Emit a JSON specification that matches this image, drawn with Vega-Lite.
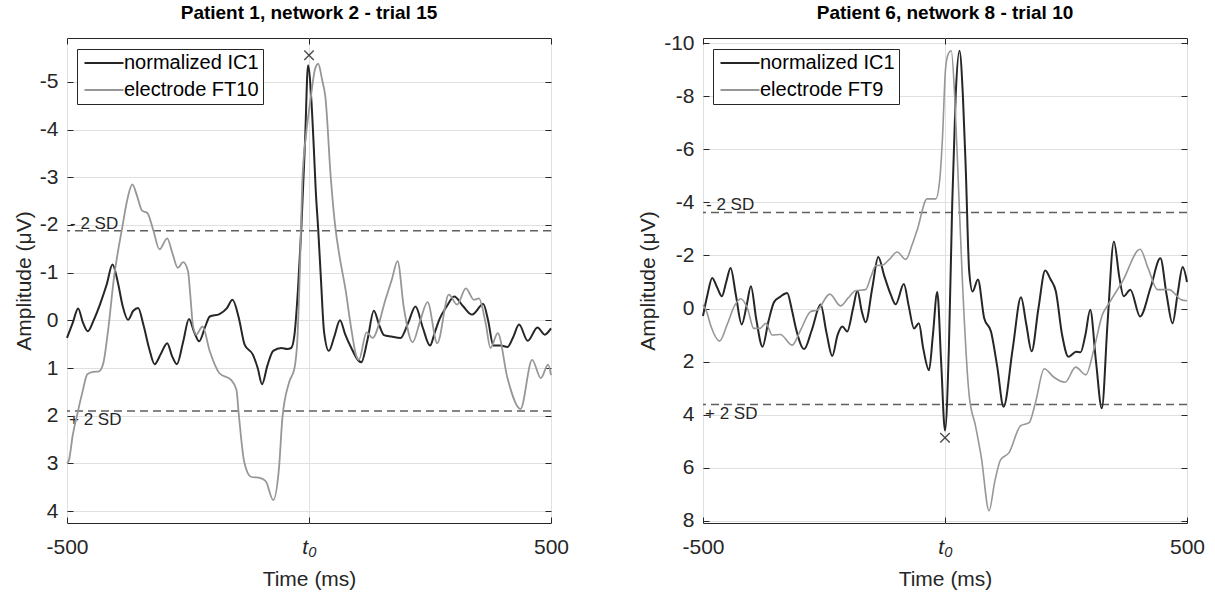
{
  "$schema": "https://vega.github.io/schema/vega-lite/v6.json",
  "background": "white",
  "padding": {"left": 12, "top": 3, "right": 5, "bottom": 2},
  "bounds": "flush",
  "spacing": 152,
  "config": {
    "font": "Liberation Sans",
    "view": {"stroke": "#262626", "strokeWidth": 1},
    "axis": {
      "domain": false,
      "labelColor": "#262626",
      "titleColor": "#262626",
      "labelFontSize": 21,
      "titleFontSize": 21,
      "titleFontWeight": "normal",
      "tickColor": "#262626",
      "gridColor": "#e0e0e0",
      "gridWidth": 1
    },
    "legend": {
      "orient": "none",
      "legendX": 10,
      "legendY": 11,
      "strokeColor": "#262626",
      "fillColor": "white",
      "padding": 4,
      "labelFontSize": 20,
      "labelColor": "#000000",
      "symbolType": "M-1,0H5",
      "symbolSize": 169,
      "symbolStrokeWidth": 2,
      "rowPadding": 7,
      "labelOffset": 23
    },
    "title": {"fontSize": 19, "fontWeight": "bold", "color": "#000000", "offset": 15, "frame": "group"}
  },
  "datasets": {
    "p1": [
      {"s": "normalized IC1", "t": -500, "v": 0.37},
      {"s": "normalized IC1", "t": -488, "v": 0.05},
      {"s": "normalized IC1", "t": -477, "v": -0.25},
      {"s": "normalized IC1", "t": -467, "v": 0.05},
      {"s": "normalized IC1", "t": -457, "v": 0.23},
      {"s": "normalized IC1", "t": -445, "v": 0.0},
      {"s": "normalized IC1", "t": -432, "v": -0.33},
      {"s": "normalized IC1", "t": -418, "v": -0.75},
      {"s": "normalized IC1", "t": -406, "v": -1.17},
      {"s": "normalized IC1", "t": -395, "v": -0.8},
      {"s": "normalized IC1", "t": -385, "v": -0.3},
      {"s": "normalized IC1", "t": -374, "v": -0.01},
      {"s": "normalized IC1", "t": -363, "v": -0.2},
      {"s": "normalized IC1", "t": -353, "v": -0.26},
      {"s": "normalized IC1", "t": -342, "v": 0.1},
      {"s": "normalized IC1", "t": -330, "v": 0.6},
      {"s": "normalized IC1", "t": -319, "v": 0.92},
      {"s": "normalized IC1", "t": -306, "v": 0.7},
      {"s": "normalized IC1", "t": -293, "v": 0.48},
      {"s": "normalized IC1", "t": -283, "v": 0.75},
      {"s": "normalized IC1", "t": -273, "v": 0.92},
      {"s": "normalized IC1", "t": -260, "v": 0.45},
      {"s": "normalized IC1", "t": -248, "v": -0.03},
      {"s": "normalized IC1", "t": -237, "v": 0.25},
      {"s": "normalized IC1", "t": -227, "v": 0.44},
      {"s": "normalized IC1", "t": -215, "v": 0.15},
      {"s": "normalized IC1", "t": -205, "v": -0.08},
      {"s": "normalized IC1", "t": -185, "v": -0.13},
      {"s": "normalized IC1", "t": -170, "v": -0.25},
      {"s": "normalized IC1", "t": -158, "v": -0.43},
      {"s": "normalized IC1", "t": -145, "v": -0.05},
      {"s": "normalized IC1", "t": -133, "v": 0.51},
      {"s": "normalized IC1", "t": -116, "v": 0.72},
      {"s": "normalized IC1", "t": -106, "v": 1.0},
      {"s": "normalized IC1", "t": -97, "v": 1.34},
      {"s": "normalized IC1", "t": -86, "v": 0.95},
      {"s": "normalized IC1", "t": -74, "v": 0.64},
      {"s": "normalized IC1", "t": -57, "v": 0.58},
      {"s": "normalized IC1", "t": -45, "v": 0.6},
      {"s": "normalized IC1", "t": -37, "v": 0.58},
      {"s": "normalized IC1", "t": -30, "v": 0.3},
      {"s": "normalized IC1", "t": -23, "v": -0.61},
      {"s": "normalized IC1", "t": -16, "v": -1.9},
      {"s": "normalized IC1", "t": -8, "v": -3.8},
      {"s": "normalized IC1", "t": -2, "v": -5.35},
      {"s": "normalized IC1", "t": 5, "v": -4.6},
      {"s": "normalized IC1", "t": 10, "v": -3.6},
      {"s": "normalized IC1", "t": 14, "v": -2.71},
      {"s": "normalized IC1", "t": 19, "v": -1.91},
      {"s": "normalized IC1", "t": 25, "v": -0.8},
      {"s": "normalized IC1", "t": 31, "v": 0.23},
      {"s": "normalized IC1", "t": 41, "v": 0.64},
      {"s": "normalized IC1", "t": 52, "v": 0.35},
      {"s": "normalized IC1", "t": 64, "v": 0.0},
      {"s": "normalized IC1", "t": 75, "v": 0.3},
      {"s": "normalized IC1", "t": 86, "v": 0.55},
      {"s": "normalized IC1", "t": 108, "v": 0.88},
      {"s": "normalized IC1", "t": 121, "v": 0.4},
      {"s": "normalized IC1", "t": 134, "v": -0.2},
      {"s": "normalized IC1", "t": 145, "v": 0.1},
      {"s": "normalized IC1", "t": 155, "v": 0.31},
      {"s": "normalized IC1", "t": 170, "v": 0.34},
      {"s": "normalized IC1", "t": 189, "v": 0.37},
      {"s": "normalized IC1", "t": 205, "v": 0.05},
      {"s": "normalized IC1", "t": 220, "v": -0.29},
      {"s": "normalized IC1", "t": 235, "v": 0.15},
      {"s": "normalized IC1", "t": 250, "v": 0.53},
      {"s": "normalized IC1", "t": 260, "v": 0.25},
      {"s": "normalized IC1", "t": 269, "v": -0.01},
      {"s": "normalized IC1", "t": 285, "v": -0.3},
      {"s": "normalized IC1", "t": 300, "v": -0.5},
      {"s": "normalized IC1", "t": 318, "v": -0.3},
      {"s": "normalized IC1", "t": 337, "v": -0.12},
      {"s": "normalized IC1", "t": 360, "v": -0.34},
      {"s": "normalized IC1", "t": 370, "v": 0.0},
      {"s": "normalized IC1", "t": 381, "v": 0.53},
      {"s": "normalized IC1", "t": 396, "v": 0.53},
      {"s": "normalized IC1", "t": 410, "v": 0.56},
      {"s": "normalized IC1", "t": 422, "v": 0.35},
      {"s": "normalized IC1", "t": 434, "v": 0.09},
      {"s": "normalized IC1", "t": 452, "v": 0.43},
      {"s": "normalized IC1", "t": 472, "v": 0.15},
      {"s": "normalized IC1", "t": 487, "v": 0.3},
      {"s": "normalized IC1", "t": 500, "v": 0.17},
      {"s": "electrode FT10", "t": -500, "v": 3.0},
      {"s": "electrode FT10", "t": -496, "v": 2.93},
      {"s": "electrode FT10", "t": -488, "v": 2.4},
      {"s": "electrode FT10", "t": -479, "v": 1.98},
      {"s": "electrode FT10", "t": -468, "v": 1.5},
      {"s": "electrode FT10", "t": -458, "v": 1.13},
      {"s": "electrode FT10", "t": -446, "v": 1.08},
      {"s": "electrode FT10", "t": -434, "v": 1.07},
      {"s": "electrode FT10", "t": -425, "v": 0.9},
      {"s": "electrode FT10", "t": -415, "v": 0.2},
      {"s": "electrode FT10", "t": -403, "v": -0.89},
      {"s": "electrode FT10", "t": -386, "v": -1.94},
      {"s": "electrode FT10", "t": -375, "v": -2.55},
      {"s": "electrode FT10", "t": -365, "v": -2.85},
      {"s": "electrode FT10", "t": -355, "v": -2.6},
      {"s": "electrode FT10", "t": -345, "v": -2.3},
      {"s": "electrode FT10", "t": -334, "v": -2.25},
      {"s": "electrode FT10", "t": -322, "v": -1.9},
      {"s": "electrode FT10", "t": -309, "v": -1.49},
      {"s": "electrode FT10", "t": -293, "v": -1.72},
      {"s": "electrode FT10", "t": -282, "v": -1.4},
      {"s": "electrode FT10", "t": -271, "v": -1.1},
      {"s": "electrode FT10", "t": -260, "v": -1.22},
      {"s": "electrode FT10", "t": -250, "v": -1.03},
      {"s": "electrode FT10", "t": -245, "v": -0.5},
      {"s": "electrode FT10", "t": -240, "v": 0.09},
      {"s": "electrode FT10", "t": -233, "v": 0.3},
      {"s": "electrode FT10", "t": -220, "v": 0.13},
      {"s": "electrode FT10", "t": -205, "v": 0.65},
      {"s": "electrode FT10", "t": -185, "v": 1.11},
      {"s": "electrode FT10", "t": -161, "v": 1.25},
      {"s": "electrode FT10", "t": -150, "v": 1.45},
      {"s": "electrode FT10", "t": -145, "v": 1.98},
      {"s": "electrode FT10", "t": -134, "v": 2.96},
      {"s": "electrode FT10", "t": -120, "v": 3.28},
      {"s": "electrode FT10", "t": -100, "v": 3.31},
      {"s": "electrode FT10", "t": -89, "v": 3.38},
      {"s": "electrode FT10", "t": -74, "v": 3.77},
      {"s": "electrode FT10", "t": -62, "v": 3.1},
      {"s": "electrode FT10", "t": -55, "v": 2.05},
      {"s": "electrode FT10", "t": -41, "v": 1.3},
      {"s": "electrode FT10", "t": -30, "v": 1.0},
      {"s": "electrode FT10", "t": -24, "v": 0.4},
      {"s": "electrode FT10", "t": -19, "v": -1.0},
      {"s": "electrode FT10", "t": -14, "v": -2.86},
      {"s": "electrode FT10", "t": -6, "v": -3.9},
      {"s": "electrode FT10", "t": 0, "v": -4.4},
      {"s": "electrode FT10", "t": 6, "v": -4.85},
      {"s": "electrode FT10", "t": 12, "v": -5.25},
      {"s": "electrode FT10", "t": 19, "v": -5.38},
      {"s": "electrode FT10", "t": 27, "v": -5.05},
      {"s": "electrode FT10", "t": 34, "v": -4.67},
      {"s": "electrode FT10", "t": 45, "v": -2.99},
      {"s": "electrode FT10", "t": 55, "v": -1.9},
      {"s": "electrode FT10", "t": 62, "v": -1.41},
      {"s": "electrode FT10", "t": 76, "v": -0.61},
      {"s": "electrode FT10", "t": 86, "v": 0.09},
      {"s": "electrode FT10", "t": 97, "v": 0.72},
      {"s": "electrode FT10", "t": 103, "v": 0.83},
      {"s": "electrode FT10", "t": 119, "v": 0.25},
      {"s": "electrode FT10", "t": 131, "v": 0.37},
      {"s": "electrode FT10", "t": 159, "v": -0.47},
      {"s": "electrode FT10", "t": 171, "v": -0.85},
      {"s": "electrode FT10", "t": 183, "v": -1.24},
      {"s": "electrode FT10", "t": 196, "v": -0.26},
      {"s": "electrode FT10", "t": 214, "v": 0.46},
      {"s": "electrode FT10", "t": 230, "v": 0.0},
      {"s": "electrode FT10", "t": 245, "v": -0.38},
      {"s": "electrode FT10", "t": 265, "v": 0.48},
      {"s": "electrode FT10", "t": 289, "v": -0.54},
      {"s": "electrode FT10", "t": 306, "v": -0.33},
      {"s": "electrode FT10", "t": 324, "v": -0.67},
      {"s": "electrode FT10", "t": 341, "v": -0.43},
      {"s": "electrode FT10", "t": 351, "v": -0.46},
      {"s": "electrode FT10", "t": 365, "v": 0.06},
      {"s": "electrode FT10", "t": 375, "v": 0.58},
      {"s": "electrode FT10", "t": 390, "v": 0.27},
      {"s": "electrode FT10", "t": 410, "v": 1.21},
      {"s": "electrode FT10", "t": 437, "v": 1.86},
      {"s": "electrode FT10", "t": 461, "v": 0.83},
      {"s": "electrode FT10", "t": 479, "v": 1.21},
      {"s": "electrode FT10", "t": 494, "v": 0.93},
      {"s": "electrode FT10", "t": 500, "v": 1.15}
    ],
    "p2": [
      {"s": "normalized IC1", "t": -500, "v": 0.28},
      {"s": "normalized IC1", "t": -491, "v": -0.5},
      {"s": "normalized IC1", "t": -481, "v": -1.15},
      {"s": "normalized IC1", "t": -471, "v": -0.8},
      {"s": "normalized IC1", "t": -461, "v": -0.46},
      {"s": "normalized IC1", "t": -452, "v": -1.0},
      {"s": "normalized IC1", "t": -443, "v": -1.53},
      {"s": "normalized IC1", "t": -432, "v": -0.5},
      {"s": "normalized IC1", "t": -420, "v": 0.6},
      {"s": "normalized IC1", "t": -410, "v": -0.1},
      {"s": "normalized IC1", "t": -401, "v": -0.84},
      {"s": "normalized IC1", "t": -390, "v": 0.4},
      {"s": "normalized IC1", "t": -377, "v": 1.44},
      {"s": "normalized IC1", "t": -365, "v": 0.5},
      {"s": "normalized IC1", "t": -353, "v": -0.25},
      {"s": "normalized IC1", "t": -340, "v": -0.45},
      {"s": "normalized IC1", "t": -326, "v": -0.58},
      {"s": "normalized IC1", "t": -317, "v": 0.0},
      {"s": "normalized IC1", "t": -308, "v": 0.75},
      {"s": "normalized IC1", "t": -291, "v": 1.53},
      {"s": "normalized IC1", "t": -275, "v": 0.8},
      {"s": "normalized IC1", "t": -257, "v": -0.15},
      {"s": "normalized IC1", "t": -245, "v": 0.9},
      {"s": "normalized IC1", "t": -233, "v": 1.79},
      {"s": "normalized IC1", "t": -222, "v": 1.0},
      {"s": "normalized IC1", "t": -212, "v": 0.68},
      {"s": "normalized IC1", "t": -202, "v": 0.87},
      {"s": "normalized IC1", "t": -190, "v": 0.0},
      {"s": "normalized IC1", "t": -181, "v": -0.67},
      {"s": "normalized IC1", "t": -172, "v": 0.1},
      {"s": "normalized IC1", "t": -164, "v": 0.52},
      {"s": "normalized IC1", "t": -150, "v": -0.8},
      {"s": "normalized IC1", "t": -138, "v": -1.94},
      {"s": "normalized IC1", "t": -125, "v": -1.2},
      {"s": "normalized IC1", "t": -112, "v": -0.52},
      {"s": "normalized IC1", "t": -102, "v": -0.16},
      {"s": "normalized IC1", "t": -85, "v": -0.92},
      {"s": "normalized IC1", "t": -75, "v": -0.1},
      {"s": "normalized IC1", "t": -64, "v": 0.75},
      {"s": "normalized IC1", "t": -54, "v": 0.56},
      {"s": "normalized IC1", "t": -45, "v": 1.5},
      {"s": "normalized IC1", "t": -33, "v": 2.33},
      {"s": "normalized IC1", "t": -25, "v": 1.0},
      {"s": "normalized IC1", "t": -16, "v": -0.62},
      {"s": "normalized IC1", "t": -8, "v": 2.0},
      {"s": "normalized IC1", "t": 0, "v": 4.6},
      {"s": "normalized IC1", "t": 8, "v": 1.5},
      {"s": "normalized IC1", "t": 15, "v": -4.0},
      {"s": "normalized IC1", "t": 22, "v": -8.0},
      {"s": "normalized IC1", "t": 30, "v": -9.71},
      {"s": "normalized IC1", "t": 37, "v": -8.0},
      {"s": "normalized IC1", "t": 43, "v": -5.2},
      {"s": "normalized IC1", "t": 50, "v": -1.4},
      {"s": "normalized IC1", "t": 57, "v": -0.64},
      {"s": "normalized IC1", "t": 68, "v": -1.09},
      {"s": "normalized IC1", "t": 81, "v": 0.37},
      {"s": "normalized IC1", "t": 95, "v": 0.87},
      {"s": "normalized IC1", "t": 108, "v": 2.2},
      {"s": "normalized IC1", "t": 121, "v": 3.7},
      {"s": "normalized IC1", "t": 140, "v": 1.5},
      {"s": "normalized IC1", "t": 157, "v": -0.42},
      {"s": "normalized IC1", "t": 168, "v": 0.6},
      {"s": "normalized IC1", "t": 179, "v": 1.61},
      {"s": "normalized IC1", "t": 193, "v": 0.0},
      {"s": "normalized IC1", "t": 207, "v": -1.43},
      {"s": "normalized IC1", "t": 218, "v": -1.1},
      {"s": "normalized IC1", "t": 229, "v": -0.65},
      {"s": "normalized IC1", "t": 242, "v": 1.0},
      {"s": "normalized IC1", "t": 255, "v": 1.82},
      {"s": "normalized IC1", "t": 271, "v": 1.63},
      {"s": "normalized IC1", "t": 280, "v": 1.65},
      {"s": "normalized IC1", "t": 290, "v": 1.0},
      {"s": "normalized IC1", "t": 300, "v": 0.05},
      {"s": "normalized IC1", "t": 312, "v": 2.0},
      {"s": "normalized IC1", "t": 324, "v": 3.76},
      {"s": "normalized IC1", "t": 336, "v": 0.5},
      {"s": "normalized IC1", "t": 349, "v": -2.52},
      {"s": "normalized IC1", "t": 360, "v": -1.2},
      {"s": "normalized IC1", "t": 369, "v": -0.46},
      {"s": "normalized IC1", "t": 383, "v": -0.71},
      {"s": "normalized IC1", "t": 403, "v": 0.3},
      {"s": "normalized IC1", "t": 425, "v": -0.8},
      {"s": "normalized IC1", "t": 445, "v": -1.89},
      {"s": "normalized IC1", "t": 458, "v": -0.5},
      {"s": "normalized IC1", "t": 470, "v": 0.56},
      {"s": "normalized IC1", "t": 481, "v": -0.6},
      {"s": "normalized IC1", "t": 491, "v": -1.56},
      {"s": "normalized IC1", "t": 500, "v": -1.0},
      {"s": "electrode FT9", "t": -500, "v": -0.14},
      {"s": "electrode FT9", "t": -493, "v": 0.1},
      {"s": "electrode FT9", "t": -483, "v": 0.7},
      {"s": "electrode FT9", "t": -466, "v": 1.23},
      {"s": "electrode FT9", "t": -450, "v": 0.6},
      {"s": "electrode FT9", "t": -435, "v": -0.1},
      {"s": "electrode FT9", "t": -422, "v": -0.37},
      {"s": "electrode FT9", "t": -408, "v": 0.0},
      {"s": "electrode FT9", "t": -395, "v": 0.75},
      {"s": "electrode FT9", "t": -383, "v": 0.75},
      {"s": "electrode FT9", "t": -370, "v": 0.56},
      {"s": "electrode FT9", "t": -357, "v": 1.0},
      {"s": "electrode FT9", "t": -340, "v": 0.98},
      {"s": "electrode FT9", "t": -316, "v": 1.38},
      {"s": "electrode FT9", "t": -298, "v": 0.8},
      {"s": "electrode FT9", "t": -278, "v": 0.12},
      {"s": "electrode FT9", "t": -264, "v": 0.06},
      {"s": "electrode FT9", "t": -238, "v": -0.54},
      {"s": "electrode FT9", "t": -216, "v": -0.1},
      {"s": "electrode FT9", "t": -200, "v": -0.4},
      {"s": "electrode FT9", "t": -185, "v": -0.67},
      {"s": "electrode FT9", "t": -164, "v": -0.71},
      {"s": "electrode FT9", "t": -153, "v": -1.2},
      {"s": "electrode FT9", "t": -143, "v": -1.62},
      {"s": "electrode FT9", "t": -130, "v": -1.63},
      {"s": "electrode FT9", "t": -115, "v": -1.85},
      {"s": "electrode FT9", "t": -99, "v": -2.13},
      {"s": "electrode FT9", "t": -81, "v": -1.85},
      {"s": "electrode FT9", "t": -68, "v": -2.4},
      {"s": "electrode FT9", "t": -57, "v": -2.99},
      {"s": "electrode FT9", "t": -37, "v": -4.13},
      {"s": "electrode FT9", "t": -19, "v": -4.13},
      {"s": "electrode FT9", "t": -11, "v": -4.83},
      {"s": "electrode FT9", "t": -5, "v": -6.5},
      {"s": "electrode FT9", "t": 1, "v": -9.0},
      {"s": "electrode FT9", "t": 7, "v": -9.6},
      {"s": "electrode FT9", "t": 13, "v": -9.71},
      {"s": "electrode FT9", "t": 20, "v": -8.0},
      {"s": "electrode FT9", "t": 27, "v": -5.0},
      {"s": "electrode FT9", "t": 36, "v": -1.02},
      {"s": "electrode FT9", "t": 50, "v": 3.28},
      {"s": "electrode FT9", "t": 63, "v": 4.42},
      {"s": "electrode FT9", "t": 75, "v": 5.6},
      {"s": "electrode FT9", "t": 91, "v": 7.62},
      {"s": "electrode FT9", "t": 103, "v": 6.5},
      {"s": "electrode FT9", "t": 115, "v": 5.69},
      {"s": "electrode FT9", "t": 132, "v": 5.44},
      {"s": "electrode FT9", "t": 156, "v": 4.42},
      {"s": "electrode FT9", "t": 174, "v": 4.3},
      {"s": "electrode FT9", "t": 187, "v": 3.54},
      {"s": "electrode FT9", "t": 205, "v": 2.27},
      {"s": "electrode FT9", "t": 225, "v": 2.59},
      {"s": "electrode FT9", "t": 248, "v": 2.78},
      {"s": "electrode FT9", "t": 270, "v": 2.21},
      {"s": "electrode FT9", "t": 291, "v": 2.5},
      {"s": "electrode FT9", "t": 308, "v": 1.51},
      {"s": "electrode FT9", "t": 325, "v": 0.24},
      {"s": "electrode FT9", "t": 339, "v": -0.2},
      {"s": "electrode FT9", "t": 367, "v": -1.03},
      {"s": "electrode FT9", "t": 403, "v": -2.23},
      {"s": "electrode FT9", "t": 420, "v": -1.5},
      {"s": "electrode FT9", "t": 439, "v": -0.71},
      {"s": "electrode FT9", "t": 463, "v": -0.71},
      {"s": "electrode FT9", "t": 488, "v": -0.33},
      {"s": "electrode FT9", "t": 500, "v": -0.29}
    ]
  },
  "resolve": {"scale": {"x": "independent", "y": "independent", "color": "independent"}, "legend": {"color": "independent"}},
  "hconcat": [
    {
      "title": {"text": "Patient 1, network 2 - trial 15"},
      "width": 484,
      "height": 485,
      "resolve": {"axis": {"x": "independent", "y": "independent"}},
      "layer": [
        {
          "data": {"values": [{"v": -1.88}, {"v": 1.9}]},
          "mark": {"type": "rule", "color": "#5f5f5f", "strokeDash": [8, 5], "strokeWidth": 1.5},
          "encoding": {
            "y": {"field": "v", "type": "quantitative", "scale": {"domain": [-5.92, 4.25], "reverse": true, "nice": false, "zero": false},
              "axis": {"orient": "right", "values": [-5, -4, -3, -2, -1, 0, 1, 2, 3, 4], "labels": false, "grid": false, "title": null, "tickSize": -6}}
          }
        },
        {
          "data": {"values": [{"t": -500, "v": -1.88, "label": "- 2 SD"}]},
          "mark": {"type": "text", "align": "left", "baseline": "alphabetic", "dx": 3, "dy": -2, "fontSize": 17, "color": "#262626"},
          "encoding": {
            "x": {"field": "t", "type": "quantitative", "scale": {"domain": [-500, 500], "nice": false, "zero": false}, "axis": null},
            "y": {"field": "v", "type": "quantitative", "scale": {"domain": [-5.92, 4.25], "reverse": true, "nice": false, "zero": false}, "axis": null},
            "text": {"field": "label"}
          }
        },
        {
          "data": {"values": [{"t": -500, "v": 1.9, "label": "+ 2 SD"}]},
          "mark": {"type": "text", "align": "left", "baseline": "top", "dx": 2, "dy": 1, "fontSize": 17, "color": "#262626"},
          "encoding": {
            "x": {"field": "t", "type": "quantitative", "scale": {"domain": [-500, 500], "nice": false, "zero": false}, "axis": null},
            "y": {"field": "v", "type": "quantitative", "scale": {"domain": [-5.92, 4.25], "reverse": true, "nice": false, "zero": false}, "axis": null},
            "text": {"field": "label"}
          }
        },
        {
          "data": {"name": "p1"},
          "mark": {"type": "line", "interpolate": "monotone"},
          "encoding": {
            "x": {"field": "t", "type": "quantitative", "scale": {"domain": [-500, 500], "nice": false, "zero": false},
              "axis": {"values": [-500, 0, 500], "title": "Time (ms)", "grid": true, "labelFlush": false, "tickSize": -6, "labelPadding": 19, "titlePadding": 11,
                "labelExpr": "datum.value == 0 ? 't₀' : replace(datum.label, '−', '-')",
                "labelFontStyle": {"condition": {"test": "datum.value == 0", "value": "italic"}, "value": "normal"}}},
            "y": {"field": "v", "type": "quantitative", "scale": {"domain": [-5.92, 4.25], "reverse": true, "nice": false, "zero": false},
              "axis": {"values": [-5, -4, -3, -2, -1, 0, 1, 2, 3, 4], "title": "Amplitude (μV)", "grid": true, "tickSize": -6, "labelPadding": 15, "titlePadding": 5,
                "labelExpr": "replace(datum.label, '−', '-')"}},
            "color": {"field": "s", "type": "nominal", "scale": {"domain": ["normalized IC1", "electrode FT10"], "range": ["#262626", "#979797"]}, "legend": {"title": null}},
            "strokeWidth": {"field": "s", "type": "nominal", "scale": {"domain": ["normalized IC1", "electrode FT10"], "range": [2, 1.6]}, "legend": null}
          }
        },
        {
          "data": {"values": [{"t": 0, "v": -5.56}]},
          "mark": {"type": "point", "shape": "M-1,-1L1,1M-1,1L1,-1", "size": 90, "filled": false, "color": "#000000", "strokeWidth": 1.4},
          "encoding": {
            "x": {"field": "t", "type": "quantitative", "scale": {"domain": [-500, 500], "nice": false, "zero": false},
              "axis": {"orient": "top", "values": [-500, 0, 500], "labels": false, "grid": false, "title": null, "tickSize": -6}},
            "y": {"field": "v", "type": "quantitative", "scale": {"domain": [-5.92, 4.25], "reverse": true, "nice": false, "zero": false}, "axis": null}
          }
        }
      ]
    },
    {
      "title": {"text": "Patient 6, network 8 - trial 10", "dy": 6},
      "width": 484,
      "height": 485,
      "resolve": {"axis": {"x": "independent", "y": "independent"}},
      "layer": [
        {
          "data": {"values": [{"v": -3.62}, {"v": 3.62}]},
          "mark": {"type": "rule", "color": "#5f5f5f", "strokeDash": [8, 5], "strokeWidth": 1.5},
          "encoding": {
            "y": {"field": "v", "type": "quantitative", "scale": {"domain": [-10.19, 8.08], "reverse": true, "nice": false, "zero": false},
              "axis": {"orient": "right", "values": [-10, -8, -6, -4, -2, 0, 2, 4, 6, 8], "labels": false, "grid": false, "title": null, "tickSize": -6}}
          }
        },
        {
          "data": {"values": [{"t": -500, "v": -3.62, "label": "- 2 SD"}]},
          "mark": {"type": "text", "align": "left", "baseline": "alphabetic", "dx": 3, "dy": -2, "fontSize": 17, "color": "#262626"},
          "encoding": {
            "x": {"field": "t", "type": "quantitative", "scale": {"domain": [-500, 500], "nice": false, "zero": false}, "axis": null},
            "y": {"field": "v", "type": "quantitative", "scale": {"domain": [-10.19, 8.08], "reverse": true, "nice": false, "zero": false}, "axis": null},
            "text": {"field": "label"}
          }
        },
        {
          "data": {"values": [{"t": -500, "v": 3.62, "label": "+ 2 SD"}]},
          "mark": {"type": "text", "align": "left", "baseline": "top", "dx": 2, "dy": 1, "fontSize": 17, "color": "#262626"},
          "encoding": {
            "x": {"field": "t", "type": "quantitative", "scale": {"domain": [-500, 500], "nice": false, "zero": false}, "axis": null},
            "y": {"field": "v", "type": "quantitative", "scale": {"domain": [-10.19, 8.08], "reverse": true, "nice": false, "zero": false}, "axis": null},
            "text": {"field": "label"}
          }
        },
        {
          "data": {"name": "p2"},
          "mark": {"type": "line", "interpolate": "monotone"},
          "encoding": {
            "x": {"field": "t", "type": "quantitative", "scale": {"domain": [-500, 500], "nice": false, "zero": false},
              "axis": {"values": [-500, 0, 500], "title": "Time (ms)", "grid": true, "labelFlush": false, "tickSize": -6, "labelPadding": 19, "titlePadding": 11,
                "labelExpr": "datum.value == 0 ? 't₀' : replace(datum.label, '−', '-')",
                "labelFontStyle": {"condition": {"test": "datum.value == 0", "value": "italic"}, "value": "normal"}}},
            "y": {"field": "v", "type": "quantitative", "scale": {"domain": [-10.19, 8.08], "reverse": true, "nice": false, "zero": false},
              "axis": {"values": [-10, -8, -6, -4, -2, 0, 2, 4, 6, 8], "title": "Amplitude (μV)", "grid": true, "tickSize": -6, "labelPadding": 15, "titlePadding": 5,
                "labelExpr": "replace(datum.label, '−', '-')"}},
            "color": {"field": "s", "type": "nominal", "scale": {"domain": ["normalized IC1", "electrode FT9"], "range": ["#262626", "#979797"]}, "legend": {"title": null}},
            "strokeWidth": {"field": "s", "type": "nominal", "scale": {"domain": ["normalized IC1", "electrode FT9"], "range": [2, 1.6]}, "legend": null}
          }
        },
        {
          "data": {"values": [{"t": 0, "v": 4.87}]},
          "mark": {"type": "point", "shape": "M-1,-1L1,1M-1,1L1,-1", "size": 90, "filled": false, "color": "#000000", "strokeWidth": 1.4},
          "encoding": {
            "x": {"field": "t", "type": "quantitative", "scale": {"domain": [-500, 500], "nice": false, "zero": false},
              "axis": {"orient": "top", "values": [-500, 0, 500], "labels": false, "grid": false, "title": null, "tickSize": -6}},
            "y": {"field": "v", "type": "quantitative", "scale": {"domain": [-10.19, 8.08], "reverse": true, "nice": false, "zero": false}, "axis": null}
          }
        }
      ]
    }
  ]
}
